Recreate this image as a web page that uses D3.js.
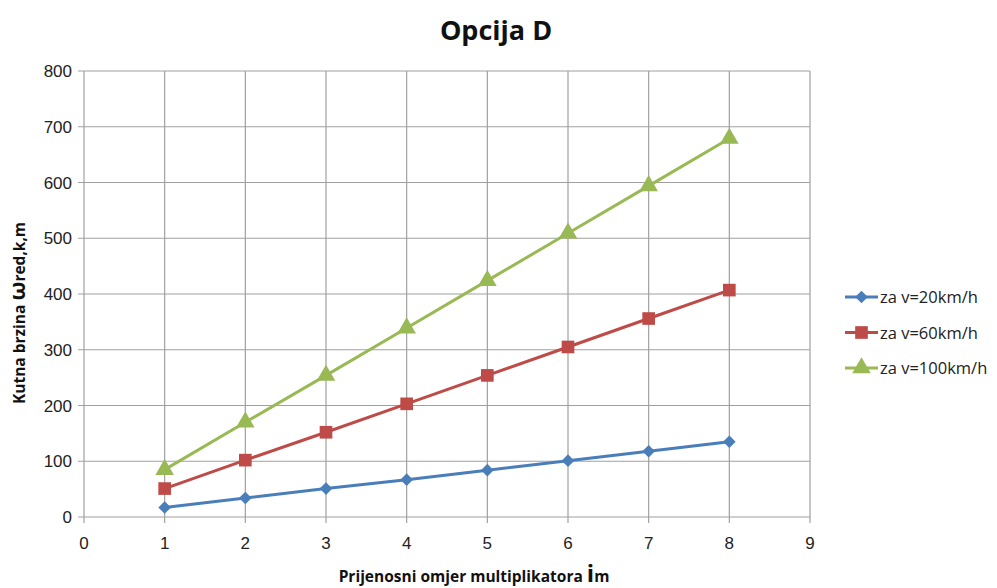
<!DOCTYPE html>
<html><head><meta charset="utf-8">
<script src="https://cdn.jsdelivr.net/npm/d3@7"></script>
<style>body{margin:0;background:#fff}svg{display:block}</style>
</head><body>
<svg id="c" width="997" height="588"></svg>
<script>
const xValues = [1,2,3,4,5,6,7,8];
const v20 = [17,34,51,67,84,101,118,135];
const v60 = [51,102,152,203,254,305,356,407];
const v100 = [85,170,254,339,424,509,594,679];
const seriesNames = ["za v=20km/h","za v=60km/h","za v=100km/h"];
const colors = ["#4a7ebb","#be4b48","#98b954"];
const symbols = [d3.symbolSquare, d3.symbolSquare, d3.symbolTriangle];
const symRot = [45, 0, 0];
const symSizes = [80, 160, 150];
const xTicks = [0,1,2,3,4,5,6,7,8,9];
const yTicks = [0,100,200,300,400,500,600,700,800];

const svg = d3.select("#c");
const L=84, R=810, T=71, B=517;
const x = d3.scaleLinear().domain([0,9]).range([L,R]);
const y = d3.scaleLinear().domain([0,800]).range([B,T]);
const grid="#a0a0a0";

svg.append("g").selectAll("line").data(yTicks).join("line")
  .attr("x1",L-6).attr("x2",R).attr("y1",d=>y(d)).attr("y2",d=>y(d))
  .attr("stroke",grid).attr("stroke-width",1.2);
svg.append("g").selectAll("line").data(xTicks).join("line")
  .attr("y1",T).attr("y2",B+6).attr("x1",d=>x(d)).attr("x2",d=>x(d))
  .attr("stroke",grid).attr("stroke-width",1.2);

svg.append("g").selectAll("text").data(yTicks).join("text")
  .attr("x",L-12).attr("y",d=>y(d)+6).attr("text-anchor","end")
  .attr("font-family","Liberation Sans, Arial").attr("font-size",17).attr("fill","#222")
  .text(d=>d);
svg.append("g").selectAll("text").data(xTicks).join("text")
  .attr("x",d=>x(d)).attr("y",B+32).attr("text-anchor","middle")
  .attr("font-family","Liberation Sans, Arial").attr("font-size",17).attr("fill","#222")
  .text(d=>d);

const all=[v20,v60,v100];
const line=d3.line().x((d,i)=>x(xValues[i])).y(d=>y(d));
all.forEach((s,k)=>{
  svg.append("path").datum(s).attr("d",line).attr("fill","none")
    .attr("stroke",colors[k]).attr("stroke-width",3);
  svg.append("g").selectAll("path").data(s).join("path")
    .attr("transform",(d,i)=>`translate(${x(xValues[i])},${y(d)}) rotate(${symRot[k]})`)
    .attr("d",d3.symbol().type(symbols[k]).size(symSizes[k])).attr("fill",colors[k]);
});

const lg=svg.append("g");
seriesNames.forEach((n,k)=>{
  const yy=297+k*35.5;
  lg.append("line").attr("x1",845).attr("x2",878).attr("y1",yy).attr("y2",yy)
    .attr("stroke",colors[k]).attr("stroke-width",3);
  lg.append("path").attr("transform",`translate(861.5,${yy}) rotate(${symRot[k]})`)
    .attr("d",d3.symbol().type(symbols[k]).size(symSizes[k])).attr("fill",colors[k]);
  lg.append("text").attr("x",880).attr("y",yy+6).attr("font-family","Open Sans, Noto Sans")
    .attr("font-size",16.5).attr("fill","#222").text(n);
});

svg.append("text").attr("x",496).attr("y",40).attr("text-anchor","middle")
  .attr("font-family","Open Sans, Noto Sans").attr("font-weight","bold").attr("font-size",27)
  .attr("fill","#111").text("Opcija D");

const xl=svg.append("text").attr("x",474).attr("y",582).attr("text-anchor","middle")
  .attr("font-family","Open Sans, Noto Sans").attr("font-weight","bold").attr("font-size",15.5).attr("fill","#111");
xl.append("tspan").text("Prijenosni omjer multiplikatora ");
xl.append("tspan").attr("font-size",24).text("i");
xl.append("tspan").text("m");

const yl=svg.append("text").attr("transform","translate(25,313) rotate(-90)").attr("text-anchor","middle")
  .attr("font-family","Open Sans, Noto Sans").attr("font-weight","bold").attr("font-size",15.5).attr("fill","#111");
yl.append("tspan").text("Kutna brzina ");
yl.append("tspan").attr("font-size",22).text("ω");
yl.append("tspan").text("red,k,m");
</script>
</body></html>
